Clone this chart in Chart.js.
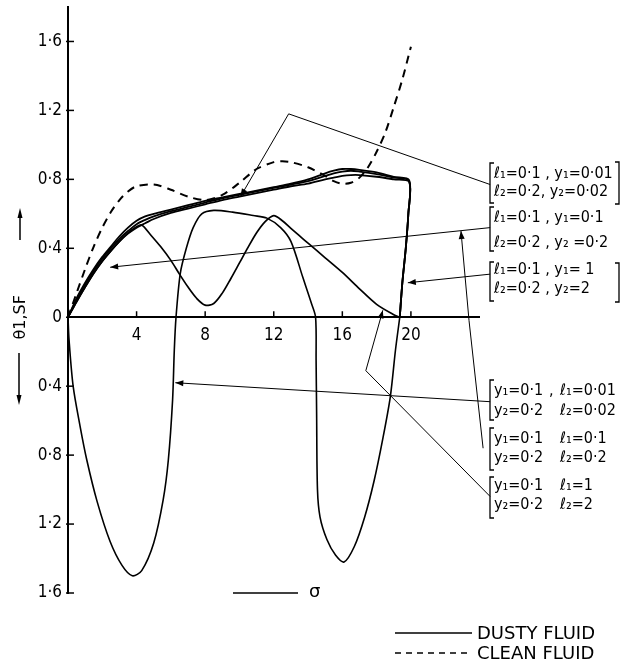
<!DOCTYPE html>
<html>
<head>
<meta charset="utf-8">
<script src="https://cdn.jsdelivr.net/npm/chart.js@4/dist/chart.umd.min.js"></script>
<style>
  html, body { margin: 0; padding: 0; background: #fff; }
  #wrap { width: 623px; height: 667px; }
</style>
</head>
<body>
<div id="wrap"><canvas id="c" width="623" height="667"></canvas></div>
<script>
// ---------- data ----------
const xTickValues = [4, 8, 12, 16, 20];
const yTickValues = [-1.6, -1.2, -0.8, -0.4, 0, 0.4, 0.8, 1.2, 1.6];
const yTickLabels = ['1·6', '1·2', '0·8', '0·4', '0', '0·4', '0·8', '1·2', '1·6'];

// three nearly coincident dusty-fluid curves
const bundleX = [0, 0.5, 1, 1.5, 2, 2.5, 3, 3.5, 4, 4.5, 5, 6, 7, 8, 9, 10, 11, 12, 13, 14, 15, 15.5, 16, 16.5, 17, 18, 19, 19.9, 19.85, 19.7, 19.5, 19.35];
const dustyAY = [0, 0.11, 0.2, 0.28, 0.35, 0.41, 0.47, 0.52, 0.56, 0.585, 0.6, 0.625, 0.65, 0.675, 0.695, 0.715, 0.735, 0.755, 0.775, 0.8, 0.835, 0.85, 0.86, 0.86, 0.855, 0.84, 0.815, 0.795, 0.6, 0.4, 0.2, 0];
const dustyBY = [0, 0.1, 0.19, 0.27, 0.34, 0.4, 0.455, 0.5, 0.54, 0.565, 0.585, 0.615, 0.64, 0.665, 0.69, 0.71, 0.73, 0.75, 0.77, 0.79, 0.82, 0.835, 0.845, 0.85, 0.845, 0.83, 0.81, 0.79, 0.6, 0.4, 0.2, 0];
const dustyCY = [0, 0.09, 0.175, 0.255, 0.325, 0.385, 0.44, 0.485, 0.52, 0.545, 0.57, 0.605, 0.63, 0.655, 0.68, 0.7, 0.72, 0.74, 0.76, 0.775, 0.8, 0.81, 0.82, 0.825, 0.825, 0.815, 0.8, 0.785, 0.6, 0.4, 0.2, 0];

// dusty-fluid curve with one dip (ends at 19.35)
const waveOneX = [0, 0.5, 1, 1.5, 2, 2.5, 3, 3.5, 4, 4.3, 4.8, 5.4, 6, 6.5, 7, 7.5, 8, 8.5, 9, 9.5, 10, 10.5, 11, 11.5, 12, 12.5, 13, 14, 15, 16, 17, 18, 19, 19.35];
const waveOneY = [0, 0.09, 0.175, 0.255, 0.325, 0.385, 0.44, 0.49, 0.525, 0.535, 0.48, 0.41, 0.33, 0.25, 0.175, 0.11, 0.07, 0.08, 0.14, 0.225, 0.315, 0.405, 0.49, 0.555, 0.59, 0.56, 0.515, 0.43, 0.345, 0.26, 0.165, 0.075, 0.015, 0];

// dusty-fluid curve with two negative lobes
const waveTwoX = [0, 0.06, 0.3, 0.7, 1.1, 1.7, 2.45, 3.15, 3.75, 4.3, 5.0, 5.55, 5.85, 6.1, 6.2, 6.3, 6.55, 6.9, 7.3, 7.8, 8.5, 9.6, 10.8, 11.6, 12.4, 13.0, 13.7, 14.2, 14.44, 14.47, 14.5, 14.55, 14.7, 15.1, 15.6, 16.1, 16.7, 17.3, 17.85, 18.35, 18.8, 19.1, 19.35];
const waveTwoY = [0, -0.13, -0.4, -0.63, -0.83, -1.07, -1.3, -1.44, -1.5, -1.47, -1.31, -1.06, -0.83, -0.48, -0.19, 0, 0.255, 0.4, 0.52, 0.6, 0.62, 0.61, 0.59, 0.575, 0.52, 0.44, 0.23, 0.08, 0, -0.25, -0.55, -1.0, -1.16, -1.29, -1.38, -1.42, -1.33, -1.16, -0.95, -0.71, -0.46, -0.19, 0];

// clean fluid (dashed)
const cleanX = [0, 0.5, 1, 1.5, 2, 2.5, 3, 3.5, 4, 5, 6, 7, 8, 9, 10, 11, 12, 12.5, 13, 14, 15, 15.5, 16, 16.5, 17, 17.5, 18, 18.5, 19, 19.5, 20];
const cleanY = [0, 0.14, 0.28, 0.41, 0.52, 0.61, 0.68, 0.73, 0.76, 0.77, 0.74, 0.7, 0.68, 0.71, 0.78, 0.86, 0.9, 0.905, 0.9, 0.87, 0.82, 0.79, 0.775, 0.78, 0.81, 0.87, 0.96, 1.07, 1.22, 1.38, 1.57];

// leader lines from the parameter boxes (first point = arrow tip)
const leaderOneX = [10.06, 12.87, 24.62];
const leaderOneY = [0.70, 1.18, 0.77];
const leaderTwoX = [2.46, 24.62];
const leaderTwoY = [0.29, 0.52];
const leaderThreeX = [19.82, 24.62];
const leaderThreeY = [0.20, 0.25];
const leaderFourX = [22.92, 23.39, 24.21, 24.62];
const leaderFourY = [0.50, -0.02, -0.76, -0.76];
const leaderFiveX = [6.26, 24.62];
const leaderFiveY = [-0.38, -0.49];
const leaderSixX = [18.36, 17.37, 24.62];
const leaderSixY = [0.04, -0.31, -1.04];

const upperGroups = [
  ['ℓ₁=0·1 , y₁=0·01', 'ℓ₂=0·2, y₂=0·02'],
  ['ℓ₁=0·1 , y₁=0·1', 'ℓ₂=0·2 , y₂ =0·2'],
  ['ℓ₁=0·1 , y₁= 1', 'ℓ₂=0·2 , y₂=2']
];
const lowerGroups = [
  [['y₁=0·1', ',', 'ℓ₁=0·01'], ['y₂=0·2', '', 'ℓ₂=0·02']],
  [['y₁=0·1', '', 'ℓ₁=0·1'], ['y₂=0·2', '', 'ℓ₂=0·2']],
  [['y₁=0·1', '', 'ℓ₁=1'], ['y₂=0·2', '', 'ℓ₂=2']]
];
const legendLabels = ['DUSTY FLUID', 'CLEAN FLUID'];
const yAxisTitle = 'θ1,SF';
const xAxisTitle = 'σ';

// ---------- helpers ----------
function pts(xs, ys) { return xs.map((v, i) => ({ x: v, y: ys[i] })); }
function curve(xs, ys, w, dash) {
  return { data: pts(xs, ys), borderColor: '#000', borderWidth: w, borderDash: dash || [],
           pointRadius: 0, tension: 0.3, fill: false, clip: false };
}
function leader(xs, ys) {
  return { data: pts(xs, ys), borderColor: '#000', borderWidth: 1, pointRadius: 0,
           tension: 0, fill: false, clip: false, leader: true };
}

const TXT = '"DejaVu Sans Condensed", "DejaVu Sans", sans-serif';

const overlay = {
  id: 'overlay',
  afterDraw(chart) {
    const { ctx, scales: { x, y } } = chart;
    const x0 = x.getPixelForValue(0), y0 = y.getPixelForValue(0);
    const line = (a, b, c, d) => { ctx.beginPath(); ctx.moveTo(a, b); ctx.lineTo(c, d); ctx.stroke(); };
    ctx.save();
    ctx.strokeStyle = '#000'; ctx.fillStyle = '#000';
    // tick marks
    ctx.lineWidth = 1.5;
    xTickValues.forEach(v => { const p = x.getPixelForValue(v); line(p, y0, p, y0 - 6); });
    yTickValues.forEach(v => { const p = y.getPixelForValue(v); line(x0 - 2, p, x0 + 6, p); });

    // arrow heads on leader lines
    chart.data.datasets.forEach((ds, i) => {
      if (!ds.leader) return;
      const m = chart.getDatasetMeta(i);
      const p0 = m.data[0], p1 = m.data[1];
      const a = Math.atan2(p0.y - p1.y, p0.x - p1.x);
      const L = 8, H = 3;
      ctx.beginPath();
      ctx.moveTo(p0.x, p0.y);
      ctx.lineTo(p0.x - L * Math.cos(a) + H * Math.sin(a), p0.y - L * Math.sin(a) - H * Math.cos(a));
      ctx.lineTo(p0.x - L * Math.cos(a) - H * Math.sin(a), p0.y - L * Math.sin(a) + H * Math.cos(a));
      ctx.closePath(); ctx.fill();
    });

    // parameter boxes
    ctx.lineWidth = 1.3;
    const lb = (xl, t, b) => { ctx.beginPath(); ctx.moveTo(xl + 4, t); ctx.lineTo(xl, t); ctx.lineTo(xl, b); ctx.lineTo(xl + 4, b); ctx.stroke(); };
    const rb = (xr, t, b) => { ctx.beginPath(); ctx.moveTo(xr - 4, t); ctx.lineTo(xr, t); ctx.lineTo(xr, b); ctx.lineTo(xr - 4, b); ctx.stroke(); };
    ctx.font = '16px ' + TXT;
    ctx.textBaseline = 'middle'; ctx.textAlign = 'left';
    const upperY = [[174, 192], [218, 243], [270, 289]];
    const upperB = [[163, 203], [207, 251], [262, 301]];
    upperGroups.forEach((g, i) => {
      g.forEach((s, j) => ctx.fillText(s, 494, upperY[i][j]));
      lb(490, upperB[i][0], upperB[i][1]);
    });
    rb(619, 162, 204);
    rb(619, 263, 302);
    const lowerY = [[391, 411], [439, 458], [486, 505]];
    const lowerB = [[380, 420], [428, 470], [477, 518]];
    lowerGroups.forEach((g, i) => {
      g.forEach((row, j) => {
        ctx.fillText(row[0], 494, lowerY[i][j]);
        ctx.fillText(row[1], 549, lowerY[i][j]);
        ctx.fillText(row[2], 560, lowerY[i][j]);
      });
      lb(490, lowerB[i][0], lowerB[i][1]);
    });

    // legend
    ctx.lineWidth = 1.3;
    line(395, 633, 472, 633);
    ctx.setLineDash([6, 5]); line(395, 653, 472, 653); ctx.setLineDash([]);
    ctx.font = '18px "DejaVu Sans", sans-serif';
    ctx.fillText(legendLabels[0], 477, 634);
    ctx.fillText(legendLabels[1], 477, 654);

    // y axis title with arrows
    ctx.save();
    ctx.translate(21, y0);
    ctx.rotate(-Math.PI / 2);
    ctx.textAlign = 'center';
    ctx.font = '16px "DejaVu Sans", sans-serif';
    ctx.fillText(yAxisTitle, 0, 0);
    ctx.restore();
    ctx.lineWidth = 1.5;
    line(20, 240, 20, 212);
    ctx.beginPath(); ctx.moveTo(20, 208); ctx.lineTo(17.5, 218); ctx.lineTo(22.5, 218); ctx.closePath(); ctx.fill();
    line(19, 353, 19, 400);
    ctx.beginPath(); ctx.moveTo(19, 405); ctx.lineTo(16.5, 395); ctx.lineTo(21.5, 395); ctx.closePath(); ctx.fill();

    // x axis title
    ctx.lineWidth = 1.5;
    line(233, 593, 298, 593);
    ctx.textAlign = 'left';
    ctx.font = '18px "DejaVu Sans", sans-serif';
    ctx.fillText(xAxisTitle, 309, 592);
    ctx.restore();
  }
};

const tickFont = { family: '"DejaVu Sans Condensed", "DejaVu Sans", sans-serif', size: 17 };

new Chart(document.getElementById('c'), {
  type: 'line',
  data: {
    datasets: [
      curve(bundleX, dustyAY, 1.8),
      curve(bundleX, dustyBY, 1.8),
      curve(bundleX, dustyCY, 1.8),
      curve(waveOneX, waveOneY, 1.7),
      curve(waveTwoX, waveTwoY, 1.6),
      curve(cleanX, cleanY, 2, [8, 6]),
      leader(leaderOneX, leaderOneY),
      leader(leaderTwoX, leaderTwoY),
      leader(leaderThreeX, leaderThreeY),
      leader(leaderFourX, leaderFourY),
      leader(leaderFiveX, leaderFiveY),
      leader(leaderSixX, leaderSixY)
    ]
  },
  options: {
    responsive: false,
    animation: false,
    devicePixelRatio: 1,
    layout: { padding: { left: 0, top: 7, right: 143.5, bottom: 74 } },
    plugins: { legend: { display: false }, tooltip: { enabled: false } },
    scales: {
      x: {
        type: 'linear', min: 0, max: 24, position: { y: 0 },
        afterBuildTicks: s => { s.ticks = xTickValues.map(v => ({ value: v })); },
        grid: { display: false, drawTicks: false },
        border: { display: true, color: '#000', width: 2 },
        ticks: { padding: 8, color: '#000', font: tickFont, maxRotation: 0, autoSkip: false }
      },
      y: {
        type: 'linear', min: -1.6, max: 1.8, position: 'left',
        afterFit: s => { s.width = 68; s.paddingTop = 0; s.paddingBottom = 0; },
        afterBuildTicks: s => { s.ticks = yTickValues.map(v => ({ value: v })); },
        grid: { display: false, drawTicks: false },
        border: { display: true, color: '#000', width: 2 },
        ticks: { padding: 6, color: '#000', font: tickFont, autoSkip: false,
                 callback: (v, i) => yTickLabels[i] }
      }
    }
  },
  plugins: [overlay]
});
</script>
</body>
</html>
